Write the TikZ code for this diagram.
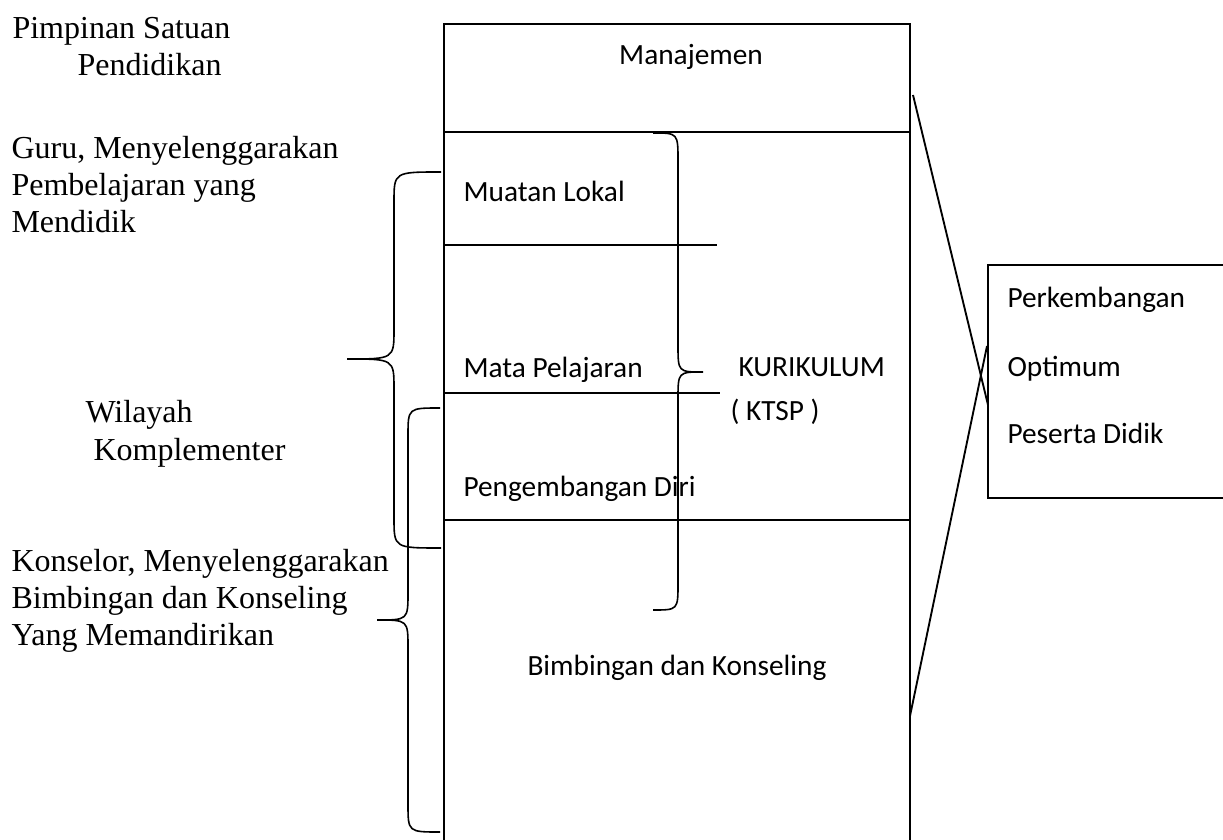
\documentclass[tikz,border=0pt]{standalone}
\usepackage{fontspec}
\setmainfont{Liberation Serif}
\newfontfamily\calibri{Carlito}
\begin{document}
\begin{tikzpicture}[x=0.375pt,y=-0.375pt,
  serif/.style={anchor=base west,inner sep=0pt,font=\fontsize{12}{13.8}\selectfont},
  cal/.style={anchor=base west,inner sep=0pt,font=\calibri\fontsize{11}{13.4}\selectfont},
  calc/.style={anchor=base,inner sep=0pt,font=\calibri\fontsize{11}{13.4}\selectfont},
  frame/.style={line width=0.75pt},
  rule/.style={line width=0.6pt},
  brace/.style={line width=0.6pt},
  link/.style={line width=0.7pt}]
\useasboundingbox (0,0) rectangle (1223,840);

% main column
\coordinate (mtl) at (444,24);
\coordinate (mtr) at (910,24);
\coordinate (mbl) at (444,850);
\coordinate (mbr) at (910,850);
\draw[frame] (mbl) -- (mtl) -- (mtr) -- (mbr);

% horizontal dividers
\coordinate (h1a) at (444,132); \coordinate (h1b) at (910,132);
\coordinate (h2a) at (444,245); \coordinate (h2b) at (717,245);
\coordinate (h3a) at (444,393); \coordinate (h3b) at (720,393);
\coordinate (h4a) at (444,520); \coordinate (h4b) at (910,520);
\draw[rule] (h1a) -- (h1b);
\draw[rule] (h2a) -- (h2b);
\draw[rule] (h3a) -- (h3b);
\draw[rule] (h4a) -- (h4b);

% right box
\coordinate (rtr) at (1230,265);
\coordinate (rtl) at (988,265);
\coordinate (rbl) at (988,498);
\coordinate (rbr) at (1230,498);
\draw[rule] (rtr) -- (rtl) -- (rbl) -- (rbr);

% crossing links
\coordinate (l1a) at (913,95);  \coordinate (l1b) at (988,405);
\coordinate (l2a) at (910,716); \coordinate (l2b) at (987,346);
\draw[link] (l1a) -- (l1b);
\draw[link] (l2a) -- (l2b);

% braces
\draw[brace] (441,172) .. controls (394,172) .. (394,202) -- (394,329)
  .. controls (394,359) .. (347,359) .. controls (394,359) .. (394,389)
  -- (394,518) .. controls (394,548) .. (441,548);
\draw[brace] (440,408) .. controls (408,408) .. (408,436) -- (408,592)
  .. controls (408,620) .. (377,620) .. controls (408,620) .. (408,648)
  -- (408,804) .. controls (408,832) .. (440,832);
\draw[brace] (653,133) .. controls (678,133) .. (678,161) -- (678,345)
  .. controls (678,372) .. (703,372) .. controls (678,372) .. (678,399)
  -- (678,583) .. controls (678,610) .. (653,610);

% left texts
\node[serif] (t1) at (12,39) {Pimpinan Satuan};
\node[serif] (t2) at (77,76) {Pendidikan};
\node[serif] (t3) at (11,159) {Guru, Menyelenggarakan};
\node[serif] (t4) at (11,196) {Pembelajaran yang};
\node[serif] (t5) at (11,233) {Mendidik};
\node[serif] (t6) at (85,423) {Wilayah};
\node[serif] (t7) at (93,460) {Komplementer};
\node[serif] (t8) at (11,571) {Konselor, Menyelenggarakan};
\node[serif] (t9) at (11,608) {Bimbingan dan Konseling};
\node[serif] (t10) at (11,645) {Yang Memandirikan};

% column texts
\node[calc] (c1) at (691,65) {Manajemen};
\node[cal] (c2) at (463,202) {Muatan Lokal};
\node[cal] (c3) at (463,378) {Mata Pelajaran};
\node[cal] (c4) at (738,377) {KURIKULUM};
\node[cal] (c5) at (730,421) {( KTSP )};
\node[cal] (c6) at (463,497) {Pengembangan Diri};
\node[cal] (c7) at (527,675) {Bimbingan dan Konseling};

% right box texts
\node[cal] (r1) at (1007,308) {Perkembangan};
\node[cal] (r2) at (1007,377) {Optimum};
\node[cal] (r3) at (1007,444) {Peserta Didik};
\end{tikzpicture}
\end{document}
